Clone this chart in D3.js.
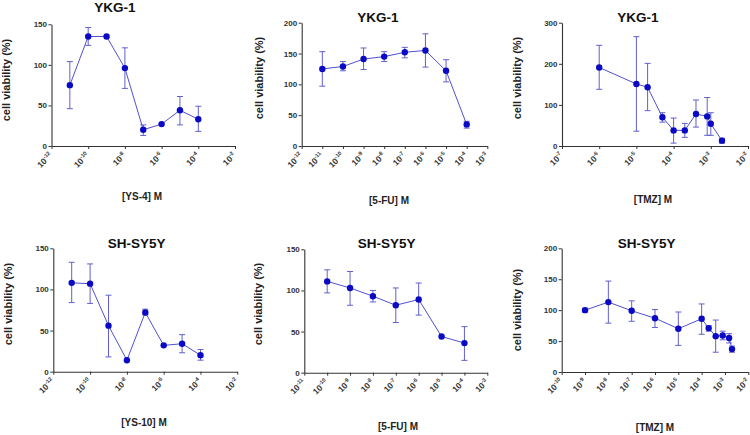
<!DOCTYPE html>
<html>
<head>
<meta charset="utf-8">
<script src="https://cdn.jsdelivr.net/npm/d3@7"></script>
<style>
  body { margin: 0; background: #fff; }
  svg { display: block; font-family: "Liberation Sans", Arial, sans-serif; }
</style>
</head>
<body>
<svg id="chart" width="750" height="435"></svg>
<script>
// ---------- DATA ----------
const titles = ["YKG-1", "YKG-1", "YKG-1", "SH-SY5Y", "SH-SY5Y", "SH-SY5Y"];
const xLabels = ["[YS-4] M", "[5-FU] M", "[TMZ] M", "[YS-10] M", "[5-FU] M", "[TMZ] M"];
const yLabel = "cell viability (%)";

// x tick exponents (log10 of molar concentration)
const xTickExp1 = [-12, -10, -8, -6, -4, -2];
const xTickExp2 = [-12, -11, -10, -9, -8, -7, -6, -5, -4, -3];
const xTickExp3 = [-7, -6, -5, -4, -3, -2];
const xTickExp4 = [-12, -10, -8, -6, -4, -2];
const xTickExp5 = [-11, -10, -9, -8, -7, -6, -5, -4, -3];
const xTickExp6 = [-10, -9, -8, -7, -6, -5, -4, -3, -2];

const yTicks1 = [0, 50, 100, 150];
const yTicks2 = [0, 50, 100, 150, 200];
const yTicks3 = [0, 100, 200, 300];
const yTicks4 = [0, 50, 100, 150];
const yTicks5 = [0, 50, 100, 150];
const yTicks6 = [0, 50, 100, 150, 200];

// Panel 1: YKG-1, YS-4
const conc1 = [1e-11, 1e-10, 1e-9, 1e-8, 1e-7, 1e-6, 1e-5, 1e-4];
const mean1 = [75, 135, 135, 96, 20, 27, 44, 33];
const upper1 = [104, 146, 135, 121, 26, 27, 61, 49];
const lower1 = [46, 124, 135, 71, 13, 27, 26, 18];

// Panel 2: YKG-1, 5-FU
const conc2 = [1e-11, 1e-10, 1e-9, 1e-8, 1e-7, 1e-6, 1e-5, 1e-4];
const mean2 = [125, 129, 141, 145, 152, 155, 122, 35];
const upper2 = [153, 137, 159, 153, 160, 182, 140, 40];
const lower2 = [97, 122, 124, 137, 143, 128, 104, 29];

// Panel 3: YKG-1, TMZ
const conc3 = [1e-6, 1e-5, 2e-5, 5e-5, 1e-4, 2e-4, 4e-4, 8e-4, 1e-3, 2e-3];
const mean3 = [191, 151, 143, 70, 38, 38, 78, 72, 54, 13];
const upper3 = [245, 266, 201, 81, 68, 55, 112, 118, 81, 19];
const lower3 = [138, 36, 86, 58, 7, 21, 46, 26, 26, 7];

// Panel 4: SH-SY5Y, YS-10
const conc4 = [1e-11, 1e-10, 1e-9, 1e-8, 1e-7, 1e-6, 1e-5, 1e-4];
const mean4 = [108, 107, 56, 14, 72, 32, 34, 20];
const upper4 = [133, 131, 93, 14, 76, 32, 45, 27];
const lower4 = [84, 83, 18, 14, 69, 32, 23, 14];

// Panel 5: SH-SY5Y, 5-FU
const conc5 = [1e-10, 1e-9, 1e-8, 1e-7, 1e-6, 1e-5, 1e-4];
const mean5 = [111, 103, 93, 82, 89, 44, 36];
const upper5 = [125, 123, 100, 103, 109, 44, 56];
const lower5 = [97, 82, 86, 61, 70, 44, 15];

// Panel 6: SH-SY5Y, TMZ
const conc6 = [1e-9, 1e-8, 1e-7, 1e-6, 1e-5, 1e-4, 2e-4, 4e-4, 8e-4, 1.5e-3, 2e-3];
const mean6 = [100, 113, 99, 87, 70, 86, 71, 58, 59, 55, 37];
const upper6 = [103, 147, 115, 101, 97, 110, 75, 84, 66, 62, 42];
const lower6 = [97, 79, 82, 72, 43, 61, 66, 32, 52, 47, 32];

// ---------- LAYOUT (positions only) ----------
const layout = [
  { l: 51.5, r: 235, t: 24.3, b: 146, title: [115, 12], yl: [6, 80], xl: [142, 200] },
  { l: 301.7, r: 487.3, t: 22.7, b: 146, title: [378, 21.5], yl: [259, 78], xl: [389, 204] },
  { l: 562, r: 748, t: 22.7, b: 146, title: [638, 21.5], yl: [517, 78], xl: [653, 203] },
  { l: 53.3, r: 237.3, t: 248.3, b: 371.7, title: [136.7, 248], yl: [7.5, 304], xl: [144, 426] },
  { l: 304.3, r: 487.3, t: 249.3, b: 372.7, title: [386.7, 248], yl: [258, 304], xl: [398, 430] },
  { l: 561.7, r: 748.3, t: 248.3, b: 372, title: [646.7, 248], yl: [517, 310], xl: [655, 431] }
];

const panels = [
  { xt: xTickExp1, yt: yTicks1, c: conc1, m: mean1, u: upper1, lo: lower1 },
  { xt: xTickExp2, yt: yTicks2, c: conc2, m: mean2, u: upper2, lo: lower2 },
  { xt: xTickExp3, yt: yTicks3, c: conc3, m: mean3, u: upper3, lo: lower3 },
  { xt: xTickExp4, yt: yTicks4, c: conc4, m: mean4, u: upper4, lo: lower4 },
  { xt: xTickExp5, yt: yTicks5, c: conc5, m: mean5, u: upper5, lo: lower5 },
  { xt: xTickExp6, yt: yTicks6, c: conc6, m: mean6, u: upper6, lo: lower6 }
];

const axisColor = "#333";
const lineColor = "#5050d0";
const errColor = "#6060d0";
const dotColor = "#0a0ac4";

const svg = d3.select("#chart");

panels.forEach((p, i) => {
  const L = layout[i];
  const g = svg.append("g");
  const xMinExp = p.xt[0], xMaxExp = p.xt[p.xt.length - 1];
  const x = d3.scaleLog().domain([Math.pow(10, xMinExp), Math.pow(10, xMaxExp)]).range([L.l, L.r]);
  const y = d3.scaleLinear().domain([0, p.yt[p.yt.length - 1]]).range([L.b, L.t]);

  // y axis
  const yAxis = g.append("g").attr("transform", `translate(${L.l},0)`)
    .call(d3.axisLeft(y).tickValues(p.yt).tickSize(3).tickSizeOuter(0).tickPadding(1.5));
  yAxis.select(".domain").attr("stroke", axisColor).attr("stroke-width", 1.1);
  yAxis.selectAll(".tick line").attr("stroke", axisColor);
  yAxis.selectAll(".tick text").attr("font-size", 8).attr("font-weight", "bold").attr("fill", "#333")
    .attr("font-family", "Liberation Sans, Arial, sans-serif");

  // x axis
  const xVals = p.xt.map(e => Math.pow(10, e));
  const xAxis = g.append("g").attr("transform", `translate(0,${L.b})`)
    .call(d3.axisBottom(x).tickValues(xVals).tickSize(3).tickSizeOuter(0).tickFormat(""));
  xAxis.select(".domain").attr("stroke", axisColor).attr("stroke-width", 1.1);
  xAxis.selectAll(".tick line").attr("stroke", axisColor);

  // x tick labels 10^exp rotated
  p.xt.forEach(e => {
    const tx = x(Math.pow(10, e));
    const t = g.append("text")
      .attr("transform", `translate(${tx + 1.5},${L.b + 10}) rotate(-45)`)
      .attr("text-anchor", "end")
      .attr("font-size", 8.5).attr("font-weight", "bold").attr("fill", "#333");
    t.append("tspan").text("10");
    t.append("tspan").attr("dy", -3.5).attr("font-size", 5.5).text(String(e));
  });

  // line
  const pts = p.c.map((c, k) => ({ c, m: p.m[k], u: p.u[k], lo: p.lo[k] }));
  g.append("path").datum(pts)
    .attr("fill", "none").attr("stroke", lineColor).attr("stroke-width", 1)
    .attr("d", d3.line().x(d => x(d.c)).y(d => y(d.m)));

  // error bars
  const eb = g.append("g").attr("stroke", errColor).attr("stroke-width", 1).attr("fill", "none");
  pts.filter(d => d.u - d.lo > 0.5).forEach(d => {
    const cx = x(d.c);
    eb.append("line").attr("x1", cx).attr("x2", cx).attr("y1", y(d.u)).attr("y2", y(d.lo));
    eb.append("line").attr("x1", cx - 3).attr("x2", cx + 3).attr("y1", y(d.u)).attr("y2", y(d.u));
    eb.append("line").attr("x1", cx - 3).attr("x2", cx + 3).attr("y1", y(d.lo)).attr("y2", y(d.lo));
  });

  // dots
  g.selectAll("circle.dot").data(pts).enter().append("circle")
    .attr("class", "dot")
    .attr("cx", d => x(d.c)).attr("cy", d => y(d.m)).attr("r", 3.2)
    .attr("fill", dotColor);

  // title
  g.append("text").attr("x", L.title[0]).attr("y", L.title[1])
    .attr("text-anchor", "middle").attr("font-size", 13.5).attr("font-weight", "bold").attr("fill", "#111")
    .text(titles[i]);

  // y label
  g.append("text")
    .attr("transform", `translate(${L.yl[0] + 4},${L.yl[1]}) rotate(-90)`)
    .attr("text-anchor", "middle").attr("font-size", 11).attr("font-weight", "bold").attr("fill", "#222")
    .text(yLabel);

  // x label
  g.append("text").attr("x", L.xl[0]).attr("y", L.xl[1])
    .attr("text-anchor", "middle").attr("font-size", 10).attr("font-weight", "bold").attr("fill", "#222")
    .text(xLabels[i]);
});
</script>
</body>
</html>
